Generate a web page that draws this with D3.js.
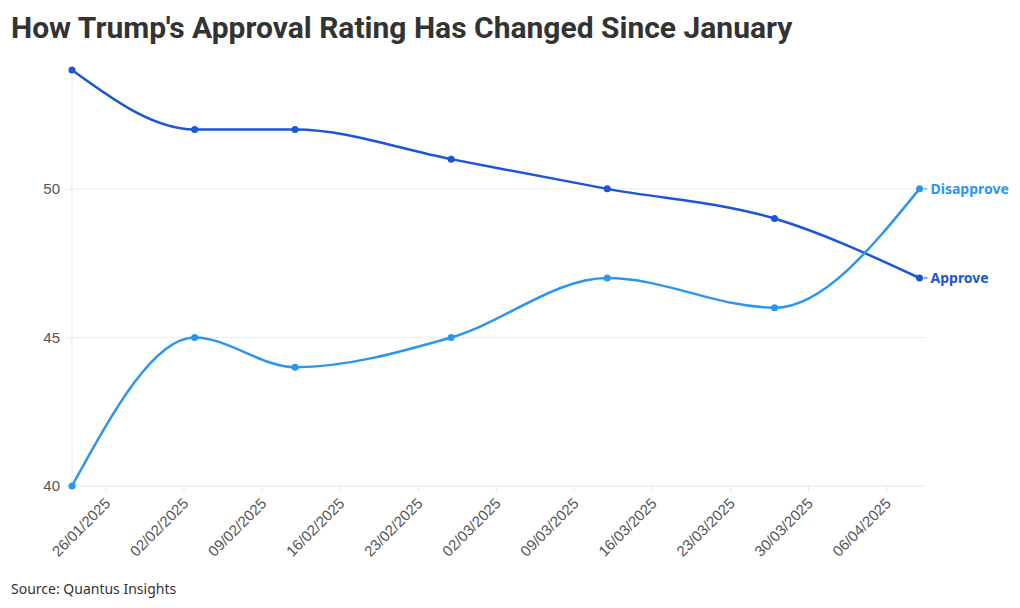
<!DOCTYPE html>
<html>
<head>
<meta charset="utf-8">
<script src="https://cdn.jsdelivr.net/npm/d3@7"></script>
<style>
  body { margin: 0; background: #fff; }
  svg { display: block; }
</style>
</head>
<body>
<div id="chart"></div>
<script>
const width = 1020;
const height = 608;

// poll dates and values
const dates = ["2025-01-23", "2025-02-03", "2025-02-12", "2025-02-26", "2025-03-12", "2025-03-27", "2025-04-09"];
const approve = [54, 52, 52, 51, 50, 49, 47];
const disapprove = [40, 45, 44, 45, 47, 46, 50];
const yTicks = [40, 45, 50];
const seriesNames = ["Approve", "Disapprove"];
const colors = ["#1a56d6", "#2b96ef"];

const parse = d3.timeParse("%Y-%m-%d");
const series = [approve, disapprove].map((vals, i) => ({
  name: seriesNames[i],
  color: colors[i],
  values: vals.map((v, j) => ({ date: parse(dates[j]), value: v }))
}));

const svg = d3.select("#chart").append("svg")
  .attr("width", width)
  .attr("height", height)
  .style("font-family", "'Noto Sans', sans-serif");

const x = d3.scaleTime()
  .domain(d3.extent(dates, d => parse(d)))
  .range([72, 919.5]);

const y = d3.scaleLinear()
  .domain([40, 54])
  .range([486, 70]);

// title
svg.append("text")
  .attr("x", 11)
  .attr("y", 38)
  .attr("font-family", "Roboto, sans-serif")
  .attr("font-weight", 700)
  .attr("font-size", "30px")
  .attr("fill", "#333")
  .text("How Trump's Approval Rating Has Changed Since January");

// grid lines
svg.append("g")
  .selectAll("line")
  .data(yTicks.slice(1))
  .join("line")
  .attr("x1", 72)
  .attr("x2", 925)
  .attr("y1", d => y(d))
  .attr("y2", d => y(d))
  .attr("stroke", "#ececec");

// y axis
const yAxis = svg.append("g")
  .attr("transform", "translate(72,0)")
  .call(d3.axisLeft(y).tickValues(yTicks).tickSize(6).tickPadding(6));
yAxis.select(".domain").attr("stroke", "#e6e6e6").attr("d", "M0,70V486");
yAxis.selectAll(".tick line").attr("stroke", "#e6e6e6");
yAxis.selectAll(".tick text")
  .attr("fill", "#555")
  .attr("font-size", "15px");

// x axis, weekly ticks on Sundays
const xAxis = svg.append("g")
  .attr("transform", "translate(0,486)")
  .call(d3.axisBottom(x)
    .ticks(d3.timeSunday.every(1))
    .tickFormat(d3.timeFormat("%d/%m/%Y"))
    .tickSize(6));
xAxis.select(".domain").attr("stroke", "#e6e6e6").attr("d", "M72,0H925");
xAxis.selectAll(".tick line").attr("stroke", "#e6e6e6");
xAxis.selectAll(".tick text")
  .attr("fill", "#555")
  .attr("font-size", "15px")
  .attr("text-anchor", "end")
  .attr("dy", null)
  .attr("transform", "translate(-1,12) rotate(-45)");

// lines
const line = d3.line()
  .x(d => x(d.date))
  .y(d => y(d.value))
  .curve(d3.curveMonotoneX);

const g = svg.append("g");

series.forEach(s => {
  g.append("path")
    .datum(s.values)
    .attr("fill", "none")
    .attr("stroke", s.color)
    .attr("stroke-width", 2.5)
    .attr("d", line);

  g.selectAll(null)
    .data(s.values)
    .join("circle")
    .attr("cx", d => x(d.date))
    .attr("cy", d => y(d.value))
    .attr("r", 3.5)
    .attr("fill", s.color);

  const last = s.values[s.values.length - 1];
  g.append("line")
    .attr("x1", x(last.date) + 4)
    .attr("x2", x(last.date) + 8)
    .attr("y1", y(last.value))
    .attr("y2", y(last.value))
    .attr("stroke", s.color)
    .attr("stroke-width", 1);
  g.append("text")
    .attr("x", x(last.date) + 11)
    .attr("y", y(last.value))
    .attr("dy", "0.35em")
    .attr("fill", s.color)
    .attr("font-weight", 700)
    .attr("font-size", "14px")
    .text(s.name);
});

// source
svg.append("text")
  .attr("x", 11)
  .attr("y", 594)
  .attr("fill", "#333")
  .attr("font-size", "14px")
  .text("Source: Quantus Insights");
</script>
</body>
</html>
